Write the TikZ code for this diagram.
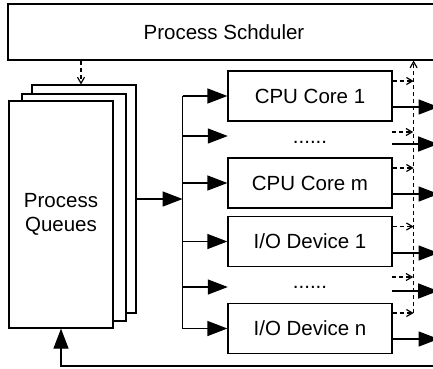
\documentclass[tikz,border=0pt]{standalone}
\usepackage{fontspec}
\setmainfont{Liberation Sans}
\usetikzlibrary{arrows.meta}
\tikzstyle{scheduler} = [rectangle, minimum width=432pt, minimum height=56pt, text centered, draw=black, line width=1.2pt]
\tikzstyle{sheet} = [rectangle, minimum width=104pt, minimum height=227pt, align=center, draw=black, fill=white, line width=1.2pt]
\tikzstyle{unit} = [rectangle, minimum width=164pt, minimum height=50pt, text centered, draw=black, line width=1.2pt]
\tikzstyle{gap} = [rectangle, minimum width=164pt, minimum height=50pt, text centered]
\tikzstyle{arrow} = [line width=1.2pt, -{Triangle[length=20pt, width=15pt]}]
\tikzstyle{signal} = [line width=1.2pt, dash pattern=on 4pt off 3pt, -{Straight Barb[length=6pt, width=7pt]}]
\tikzstyle{bus} = [line width=1.2pt]

\begin{document}
\begin{tikzpicture}[x=1pt, y=1pt, node distance=43.5pt, font=\fontsize{20.5}{24}\selectfont]
\useasboundingbox (0,0) rectangle (433,-368);

% Nodes
\node (sched) [scheduler] at (224,-32) {Process Schduler};
\node (q3) [sheet, minimum height=228pt] at (84,-199) {};
\node (q2) [sheet, node distance=10pt, left of=q3, yshift=-8.5pt] {};
\node (queues) [sheet, node distance=13pt, left of=q2, yshift=-7pt] {Process\\Queues};
\node (cpu1) [unit, below of=sched, xshift=86pt, yshift=-20.5pt] {CPU Core 1};
\node (dots1) [gap, below of=cpu1, yshift=3.5pt, text height=15pt] {......};
\node (cpum) [unit, node distance=87pt, below of=cpu1] {CPU Core m};
\node (io1) [unit, node distance=58.5pt, below of=cpum] {I/O Device 1};
\node (dots2) [gap, below of=io1, yshift=-2pt] {......};
\node (ion) [unit, node distance=87pt, below of=io1] {I/O Device n};

% Dispatch bus
\draw [arrow] (q3.east) -- ++(46pt,0) coordinate (bus);
\draw [bus] (bus |- cpu1.west) -- (bus |- ion.west);
\draw [arrow] (bus |- cpu1.west) -- (cpu1.west);
\draw [arrow] (bus |- dots1.west) -- (dots1.west);
\draw [arrow] (bus |- cpum.west) -- (cpum.west);
\draw [arrow] (bus |- io1.west) -- (io1.west);
\draw [arrow] (bus |- dots2.west) -- (dots2.west);
\draw [arrow] (bus |- ion.west) -- (ion.west);

% Outputs and signals
\draw [signal] ([yshift=15pt]cpu1.east) -- ++(21pt,0);
\draw [arrow] ([yshift=-11pt]cpu1.east) -- ++(46pt,0);
\draw [signal] ([yshift=4pt]dots1.east) -- ++(21pt,0);
\draw [arrow] ([yshift=-8pt]dots1.east) -- ++(46pt,0);
\draw [signal] ([yshift=15pt]cpum.east) -- ++(21pt,0);
\draw [arrow] ([yshift=-11pt]cpum.east) -- ++(46pt,0);
\draw [signal] ([yshift=15pt]io1.east) -- ++(21pt,0);
\draw [arrow] ([yshift=-11.5pt]io1.east) -- ++(46pt,0);
\draw [signal] ([yshift=10pt]dots2.east) -- ++(21pt,0);
\draw [arrow] ([yshift=-4pt]dots2.east) -- ++(46pt,0);
\draw [signal] ([yshift=15.5pt]ion.east) -- ++(21pt,0) coordinate (railfoot);
\draw [arrow] ([yshift=-10.5pt]ion.east) -- ++(46pt,0);
\draw [signal] (railfoot) -- (railfoot |- sched.south);

% Scheduler to queues, and back
\coordinate (qtop) at ([xshift=-3pt]q3.north);
\draw [signal] (qtop |- sched.south) -- (qtop);
\coordinate (loop) at (440,-366);
\draw [arrow] (loop) -| (queues.south);

\end{tikzpicture}
\end{document}
